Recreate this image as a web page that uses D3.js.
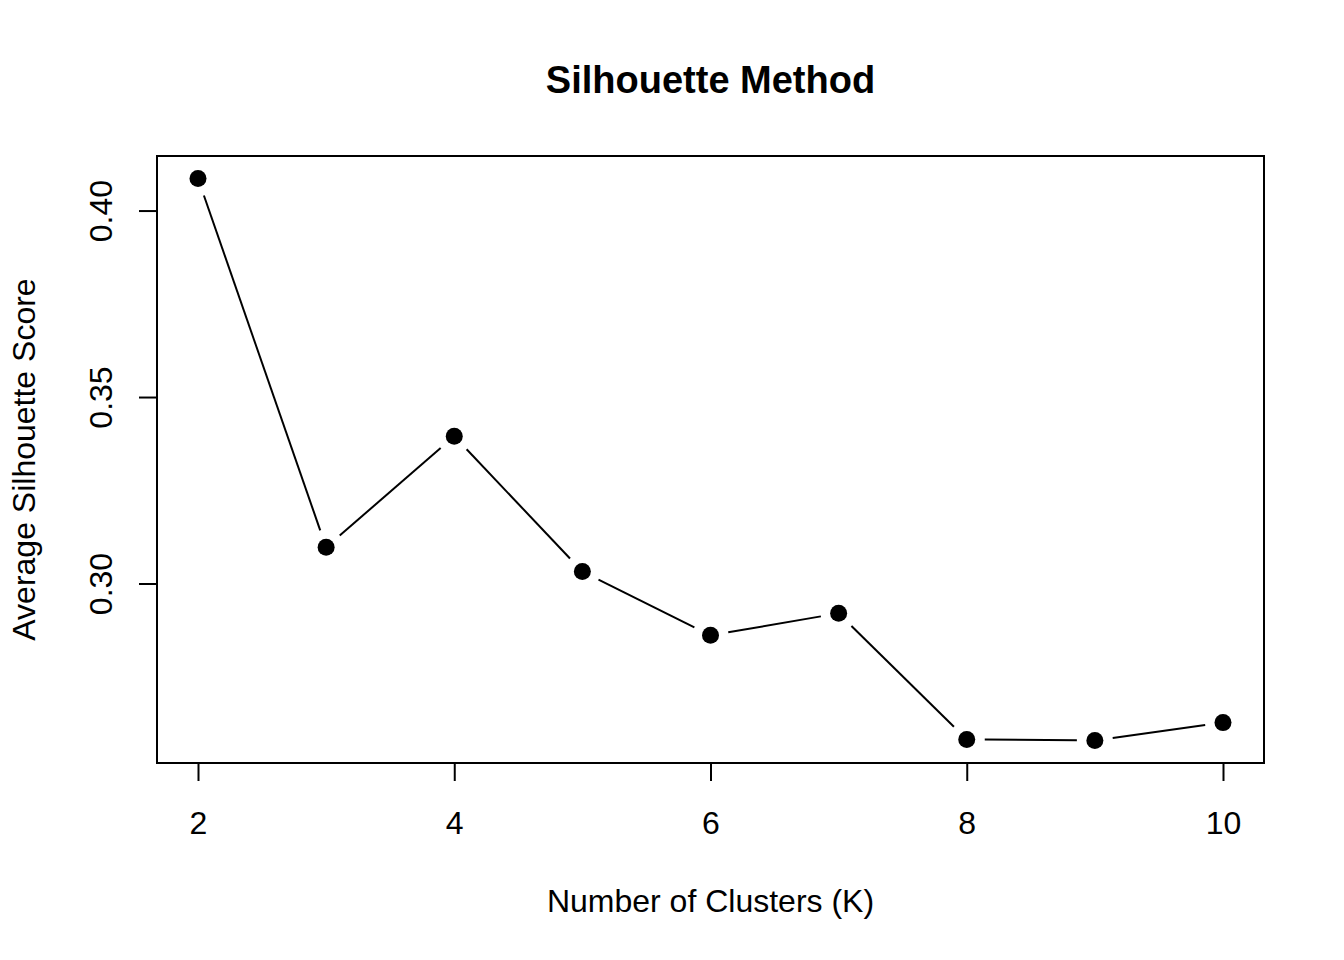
<!DOCTYPE html>
<html lang="en">
<head>
  <meta charset="utf-8">
  <title>Silhouette Method</title>
  <script src="https://d3js.org/d3.v7.min.js"></script>
  <style>
    body { margin: 0; background: #fff; }
    svg text { font-family: "Liberation Sans", Arial, Helvetica, sans-serif; fill: #000; }
  </style>
</head>
<body>
  <div id="chart"></div>
  <script>
    "use strict"

    // data
    var clusters = [2, 3, 4, 5, 6, 7, 8, 9, 10];
    var silhouette = [0.4086, 0.3097, 0.3395, 0.3032, 0.2861, 0.2920, 0.2582, 0.2579, 0.2627];
    var xTicks = [2, 4, 6, 8, 10];
    var yTicks = [0.30, 0.35, 0.40];

    var larguraSVG = 1344, alturaSVG = 960;
    var box = {left: 157, right: 1264, top: 156, bottom: 763};

    // R style: extend range 4% each side
    function pad(ext) {
      var r = ext[1] - ext[0];
      return [ext[0] - 0.04 * r, ext[1] + 0.04 * r];
    }

    var x = d3.scaleLinear()
      .domain(pad(d3.extent(clusters)))
      .range([box.left, box.right]);

    var y = d3.scaleLinear()
      .domain(pad(d3.extent(silhouette)))
      .range([box.bottom, box.top]);

    var svg = d3.select('#chart').append('svg')
      .attr('width', larguraSVG)
      .attr('height', alturaSVG);

    // axes
    var eixoX = svg.append('g')
      .attr('transform', 'translate(0,' + box.bottom + ')')
      .call(d3.axisBottom(x).tickValues(xTicks).tickSize(18).tickPadding(30).tickFormat(d3.format('d')));
    eixoX.select('.domain')
      .attr('d', 'M' + x(xTicks[0]) + ',0H' + x(xTicks[xTicks.length - 1]))
      .attr('stroke-width', 2);

    var eixoY = svg.append('g')
      .attr('transform', 'translate(' + box.left + ',0)')
      .call(d3.axisLeft(y).tickValues(yTicks).tickSize(18).tickFormat(d3.format('.2f')));
    eixoY.select('.domain')
      .attr('d', 'M0,' + y(yTicks[0]) + 'V' + y(yTicks[yTicks.length - 1]))
      .attr('stroke-width', 2);

    svg.selectAll('.tick line').attr('stroke-width', 2);
    eixoX.selectAll('.tick text')
      .style('font-size', '32px')
      .attr('dy', '0.71em');
    eixoY.selectAll('.tick text')
      .style('font-size', '32px')
      .attr('text-anchor', 'middle')
      .attr('x', 0).attr('dy', 0)
      .attr('transform', 'translate(-45,0) rotate(-90)')
      .attr('y', 0);
    svg.selectAll('.tick text').attr('fill', '#000');

    // plot box
    svg.append('rect')
      .attr('x', box.left).attr('y', box.top)
      .attr('width', box.right - box.left)
      .attr('height', box.bottom - box.top)
      .attr('fill', 'none')
      .attr('stroke', '#000')
      .attr('stroke-width', 2);

    // line segments with gaps (type = "b")
    var pontos = clusters.map(function (k, i) { return [x(k), y(silhouette[i])]; });
    var gap = 18;
    var segs = d3.pairs(pontos).map(function (p) {
      var dx = p[1][0] - p[0][0], dy = p[1][1] - p[0][1];
      var len = Math.sqrt(dx * dx + dy * dy);
      var ux = dx / len, uy = dy / len;
      return [p[0][0] + ux * gap, p[0][1] + uy * gap, p[1][0] - ux * gap, p[1][1] - uy * gap];
    });

    svg.append('g').selectAll('line')
      .data(segs)
      .enter().append('line')
        .attr('x1', d => d[0]).attr('y1', d => d[1])
        .attr('x2', d => d[2]).attr('y2', d => d[3])
        .attr('stroke', '#000')
        .attr('stroke-width', 2);

    svg.append('g').selectAll('circle')
      .data(pontos)
      .enter().append('circle')
        .attr('cx', d => d[0])
        .attr('cy', d => d[1])
        .attr('r', 8.5)
        .attr('fill', '#000');

    // titles
    svg.append('text')
      .attr('x', (box.left + box.right) / 2)
      .attr('y', 93)
      .attr('text-anchor', 'middle')
      .style('font-size', '38px')
      .style('font-weight', 'bold')
      .text('Silhouette Method');

    svg.append('text')
      .attr('x', (box.left + box.right) / 2)
      .attr('y', 912)
      .attr('text-anchor', 'middle')
      .style('font-size', '32px')
      .text('Number of Clusters (K)');

    svg.append('text')
      .attr('transform', 'translate(35,' + ((box.top + box.bottom) / 2) + ') rotate(-90)')
      .attr('text-anchor', 'middle')
      .style('font-size', '32px')
      .text('Average Silhouette Score');
  </script>
</body>
</html>
